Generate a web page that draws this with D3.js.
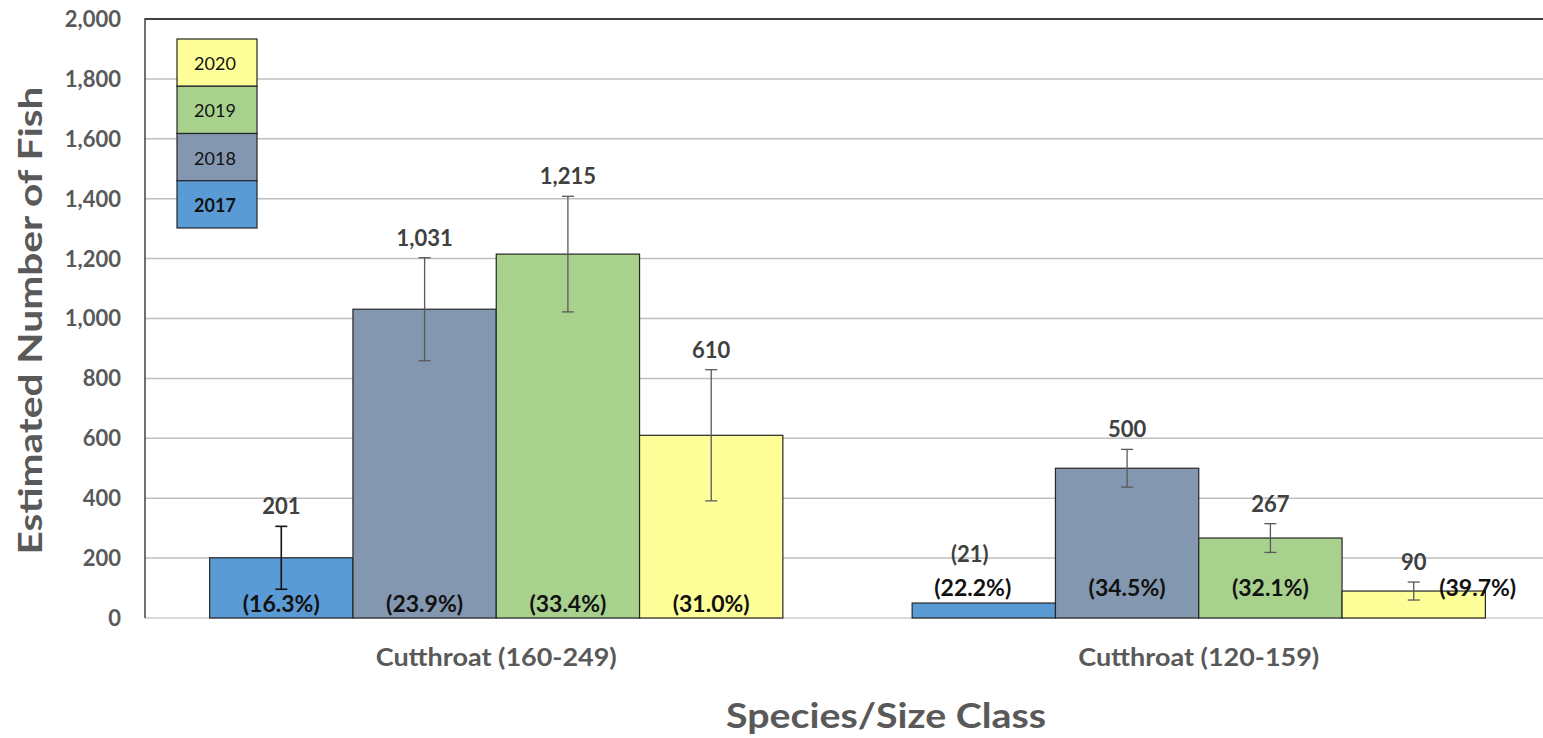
<!DOCTYPE html>
<html>
<head>
<meta charset="utf-8">
<script src="https://cdn.jsdelivr.net/npm/d3@7"></script>
<style>
  body { margin: 0; background: #fff; }
  svg { display: block; font-family: Lato, "Open Sans", sans-serif; }
</style>
</head>
<body>
<div id="chart"></div>
<script>
// categories, years and values
const categories = ["Cutthroat (160-249)", "Cutthroat (120-159)"];
const years = ["2017", "2018", "2019", "2020"];
const colors = ["#5B9BD5", "#8497B0", "#A9D18E", "#FFFF99"];

const values = [
    [201, 1031, 1215, 610],
    [50, 500, 267, 90]
];
// half length of the error bars (0 = none drawn)
const errors = [
    [105, 172, 193, 219],
    [0, 63, 48, 30]
];
const valueLabels = [
    ["201", "1,031", "1,215", "610"],
    ["(21)", "500", "267", "90"]
];
const pctLabels = [
    ["(16.3%)", "(23.9%)", "(33.4%)", "(31.0%)"],
    ["(22.2%)", "(34.5%)", "(32.1%)", "(39.7%)"]
];
const yTicks = [0, 200, 400, 600, 800, 1000, 1200, 1400, 1600, 1800, 2000];

const width = 1543;
const height = 738;
const marginTop = 19;
const marginLeft = 145;
const plotBottom = 618;

const svg = d3.select("#chart").append("svg")
    .attr("width", width)
    .attr("height", height);

const x0 = d3.scaleBand()
    .domain(categories)
    .range([marginLeft, 1550])
    .paddingInner(0.184)
    .paddingOuter(0.092);

const x1 = d3.scaleBand()
    .domain(years)
    .range([0, x0.bandwidth()]);

const y = d3.scaleLinear()
    .domain([0, 2000])
    .range([plotBottom, marginTop]);

// grid lines
svg.append("g")
    .selectAll("line")
    .data(yTicks.filter(d => d > 0 && d < 2000))
    .join("line")
    .attr("x1", marginLeft)
    .attr("x2", width)
    .attr("y1", d => y(d))
    .attr("y2", d => y(d))
    .attr("stroke", "#bfbfbf")
    .attr("stroke-width", 1.5);

// bottom axis line (light)
svg.append("line")
    .attr("x1", marginLeft).attr("x2", width)
    .attr("y1", y(0)).attr("y2", y(0))
    .attr("stroke", "#d9d9d9")
    .attr("stroke-width", 2);

// top border and left axis (dark)
svg.append("line")
    .attr("x1", marginLeft).attr("x2", width)
    .attr("y1", y(2000)).attr("y2", y(2000))
    .attr("stroke", "#404040")
    .attr("stroke-width", 2);
svg.append("line")
    .attr("x1", marginLeft).attr("x2", marginLeft)
    .attr("y1", y(2000) - 1).attr("y2", y(0))
    .attr("stroke", "#404040")
    .attr("stroke-width", 1.5);

// y tick labels
svg.append("g")
    .selectAll("text")
    .data(yTicks)
    .join("text")
    .attr("x", 121)
    .attr("y", d => y(d))
    .attr("dy", "0.36em")
    .attr("text-anchor", "end")
    .attr("font-size", 22)
    .attr("font-weight", "bold")
    .attr("fill", "#595959")
    .text(d => d3.format(",")(d));

// flatten data
const rows = [];
categories.forEach((c, i) => {
    years.forEach((yr, j) => {
        rows.push({
            cat: c, ci: i, year: yr, yi: j,
            value: values[i][j], err: errors[i][j],
            label: valueLabels[i][j], pct: pctLabels[i][j]
        });
    });
});

const groups = svg.append("g")
    .selectAll("g")
    .data(rows)
    .join("g")
    .attr("transform", d => `translate(${x0(d.cat) + x1(d.year)},0)`);

// bars
groups.append("rect")
    .attr("x", 0)
    .attr("y", d => y(d.value))
    .attr("width", x1.bandwidth())
    .attr("height", d => y(0) - y(d.value))
    .attr("fill", d => colors[d.yi])
    .attr("stroke", "#262626")
    .attr("stroke-width", 1.2);

// error bars
const eb = groups.filter(d => d.err > 0).append("g")
    .attr("stroke", d => d.ci === 0 && d.yi === 0 ? "#111" : "#595959")
    .attr("stroke-width", d => d.ci === 0 && d.yi === 0 ? 1.6 : 1.3);
const cx = x1.bandwidth() / 2;
eb.append("line")
    .attr("x1", cx).attr("x2", cx)
    .attr("y1", d => y(d.value + d.err))
    .attr("y2", d => y(d.value - d.err));
eb.append("line")
    .attr("x1", cx - 6).attr("x2", cx + 6)
    .attr("y1", d => y(d.value + d.err))
    .attr("y2", d => y(d.value + d.err));
eb.append("line")
    .attr("x1", cx - 6).attr("x2", cx + 6)
    .attr("y1", d => y(d.value - d.err))
    .attr("y2", d => y(d.value - d.err));

// value labels
groups.append("text")
    .attr("x", d => d.err > 0 ? cx : cx - 14)
    .attr("y", d => d.err > 0 ? y(d.value + d.err) - 20 : y(d.value) - 49)
    .attr("dy", "0.36em")
    .attr("text-anchor", "middle")
    .attr("font-size", 22)
    .attr("font-weight", "bold")
    .attr("fill", "#404040")
    .text(d => d.label);

// percent labels
groups.append("text")
    .attr("x", d => (d.ci === 1 && d.yi === 3) ? cx + 64 : (d.ci === 1 && d.yi === 0 ? cx - 11 : cx))
    .attr("y", d => d.ci === 0 ? y(0) - 14 : y(0) - 30)
    .attr("dy", "0.36em")
    .attr("text-anchor", "middle")
    .attr("font-size", 23)
    .attr("font-weight", "bold")
    .attr("fill", "#111")
    .text(d => d.pct);

// category labels
svg.append("g")
    .selectAll("text")
    .data(categories)
    .join("text")
    .attr("x", d => x0(d) + x0.bandwidth() / 2)
    .attr("y", 657)
    .attr("dy", "0.36em")
    .attr("text-anchor", "middle")
    .attr("font-size", 24)
    .attr("font-weight", "bold")
    .attr("fill", "#595959")
    .attr("textLength", 241)
    .attr("lengthAdjust", "spacingAndGlyphs")
    .text(d => d);

// axis titles
svg.append("text")
    .attr("x", 886)
    .attr("y", 716)
    .attr("dy", "0.36em")
    .attr("text-anchor", "middle")
    .attr("font-size", 34)
    .attr("font-weight", "bold")
    .attr("fill", "#595959")
    .attr("textLength", 320)
    .attr("lengthAdjust", "spacingAndGlyphs")
    .text("Species/Size Class");

svg.append("text")
    .attr("transform", `translate(30,${(y(0) + y(2000)) / 2 + 2}) rotate(-90)`)
    .attr("dy", "0.36em")
    .attr("text-anchor", "middle")
    .attr("font-size", 32)
    .attr("font-weight", "bold")
    .attr("fill", "#595959")
    .attr("textLength", 468)
    .attr("lengthAdjust", "spacingAndGlyphs")
    .text("Estimated Number of Fish");

// legend (stacked, 2020 on top)
const legend = svg.append("g").attr("transform", "translate(177,39)");
const cellH = 47.25;
const legendYears = years.slice().reverse();
legend.selectAll("rect")
    .data(legendYears)
    .join("rect")
    .attr("x", 0)
    .attr("y", (d, i) => i * cellH)
    .attr("width", 80)
    .attr("height", cellH)
    .attr("fill", d => colors[years.indexOf(d)])
    .attr("stroke", "#262626")
    .attr("stroke-width", 1.2);
legend.selectAll("text")
    .data(legendYears)
    .join("text")
    .attr("x", 38)
    .attr("y", (d, i) => i * cellH + cellH / 2 + 1)
    .attr("dy", "0.36em")
    .attr("text-anchor", "middle")
    .attr("font-size", 18)
    .attr("font-weight", d => d === "2017" ? "bold" : "normal")
    .attr("fill", "#111")
    .text(d => d);
</script>
</body>
</html>
